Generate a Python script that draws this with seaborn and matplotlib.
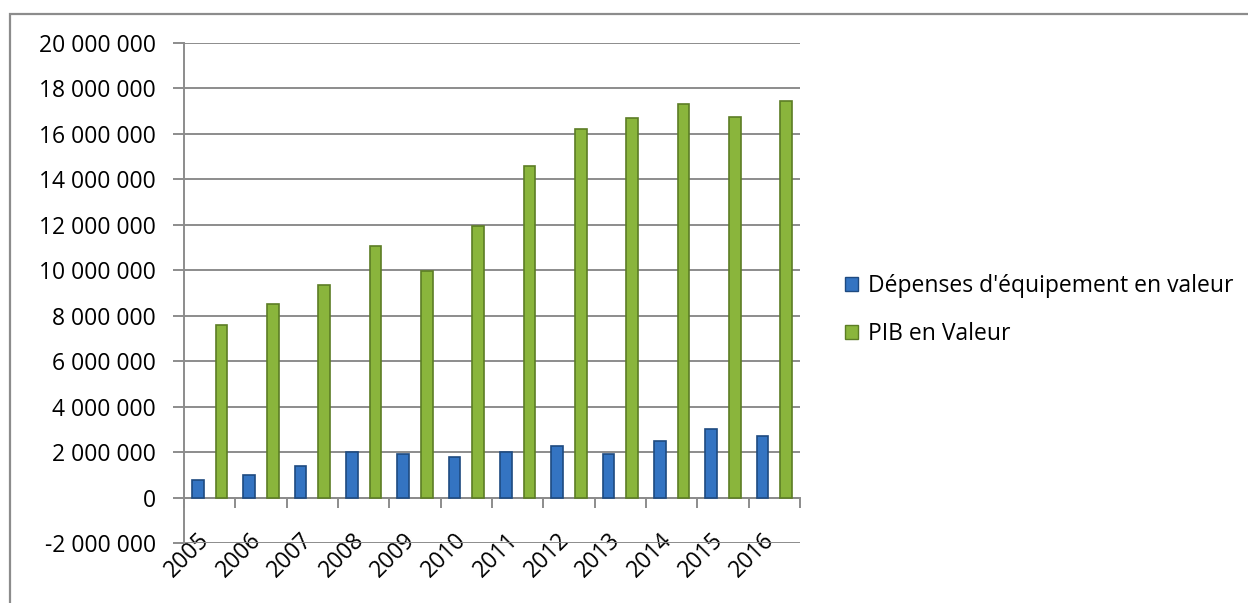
import pandas as pd
import matplotlib.pyplot as plt
import matplotlib.patches as mpatches
import matplotlib.transforms as mtransforms
from matplotlib.ticker import FuncFormatter, FixedLocator
import seaborn as sns

# Values
years = ['2005', '2006', '2007', '2008', '2009', '2010',
         '2011', '2012', '2013', '2014', '2015', '2016']
depenses = [790000, 1000000, 1410000, 2000000, 1930000, 1800000,
            2000000, 2280000, 1900000, 2500000, 3030000, 2720000]
pib = [7600000, 8500000, 9350000, 11050000, 9950000, 11950000,
       14600000, 16230000, 16680000, 17300000, 16730000, 17440000]
series_names = ["Dépenses d'équipement en valeur", "PIB en Valeur"]
y_ticks = list(range(-2000000, 20000001, 2000000))

df = pd.DataFrame({
    'annee': years * 2,
    'valeur': depenses + pib,
    'serie': [series_names[0]] * len(years) + [series_names[1]] * len(years),
})

sns.set_style('white')
plt.rcParams['font.family'] = ['Open Sans', 'DejaVu Sans']
plt.rcParams['text.color'] = 'black'
plt.rcParams['xtick.labelcolor'] = 'black'
plt.rcParams['ytick.labelcolor'] = 'black'

fig = plt.figure(figsize=(12.48, 6.03), dpi=100)
ax = fig.add_axes([184 / 1248, 60 / 603, 616 / 1248, 500 / 603])

palette = {series_names[0]: '#3474C2', series_names[1]: '#8AB53C'}
sns.barplot(data=df, x='annee', y='valeur', hue='serie', palette=palette,
            width=0.92, gap=0.5, ax=ax, legend=True, saturation=1)

edge_cols = ['#1E4A80', '#5C7D25']
for cont, ec in zip(ax.containers, edge_cols):
    for bar in cont:
        bar.set_edgecolor(ec)
        bar.set_linewidth(1.2)
        bar.set_zorder(3)

grid_col = '#8C8C8C'
ax.set_ylim(-2000000, 20000000)
ax.set_xlim(-0.5, len(years) - 0.5)
ax.set_yticks(y_ticks)
ax.yaxis.set_major_formatter(FuncFormatter(lambda v, p: f'{v:,.0f}'.replace(',', ' ')))
ax.grid(axis='y', color=grid_col, linewidth=1.4, zorder=0)
ax.set_axisbelow(True)

for side in ['top', 'right']:
    ax.spines[side].set_visible(False)
ax.spines['left'].set_color(grid_col)
ax.spines['left'].set_linewidth(1.4)
ax.spines['bottom'].set_position(('data', 0))
ax.spines['bottom'].set_color(grid_col)
ax.spines['bottom'].set_linewidth(1.4)

ax.xaxis.set_minor_locator(FixedLocator([i - 0.5 for i in range(len(years) + 1)]))
ax.tick_params(axis='x', which='minor', bottom=True, length=7, width=1.4,
               color=grid_col, direction='out')
ax.tick_params(axis='x', which='major', bottom=True, length=0, pad=22,
               labelsize=16.5, labelcolor='black')
ax.tick_params(axis='y', left=True, length=8, width=1.4, color=grid_col,
               direction='out', pad=12, labelsize=16.5, labelcolor='black')
shift = mtransforms.ScaledTranslation(5 / 100, 0, fig.dpi_scale_trans)
for lab in ax.get_xticklabels():
    lab.set_rotation(45)
    lab.set_ha('right')
    lab.set_transform(lab.get_transform() + shift)

ax.set_xlabel('')
ax.set_ylabel('')

leg = ax.legend(loc='center left', bbox_to_anchor=(845 / 1248, 293 / 603),
                bbox_transform=fig.transFigure, frameon=False, fontsize=16.5,
                handlelength=0.55, handleheight=0.55, handletextpad=0.45,
                labelspacing=1.05, borderpad=0, borderaxespad=0)
for h, ec in zip(leg.legend_handles, edge_cols):
    h.set_edgecolor(ec)
for t in leg.get_texts():
    t.set_color('black')

# outer chart frame
frame = mpatches.Rectangle((10 / 1248, -0.1), 2, 0.1 + 589 / 603,
                           transform=fig.transFigure, fill=False,
                           edgecolor='#8C8C8C', linewidth=1.6)
fig.patches.append(frame)

fig.savefig('out.png', dpi=100)
